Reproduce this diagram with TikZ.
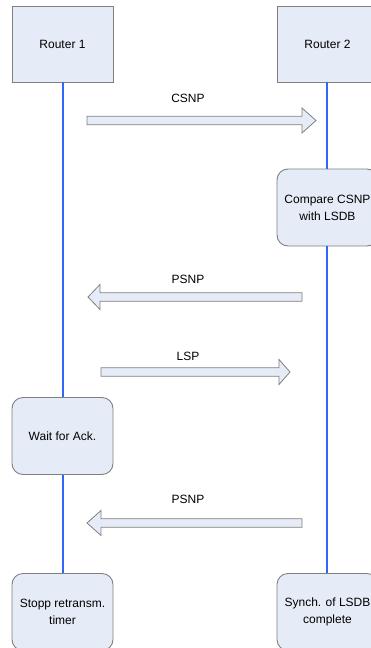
\documentclass[tikz,border=0pt]{standalone}
\usepackage{fontspec}
\setmainfont{Liberation Sans}
\definecolor{boxfill}{HTML}{E6ECF7}
\definecolor{boxline}{HTML}{7F7F7F}
\definecolor{lifeline}{HTML}{3366FF}
% block arrow: tail x, head base x, tip x, centre y (all in pt, y downwards)
\newcommand\pktarrow[4]{%
  \draw[pkt] (#1pt,-#4pt+4.2pt) -- (#2pt,-#4pt+4.2pt) -- (#2pt,-#4pt+12.5pt)
    -- (#3pt,-#4pt) -- (#2pt,-#4pt-12.5pt) -- (#2pt,-#4pt-4.2pt)
    -- (#1pt,-#4pt-4.2pt) -- cycle;}
\begin{document}
\begin{tikzpicture}[x=1pt,y=1pt,
  font=\fontsize{12}{17}\selectfont,
  router/.style={draw=boxline, fill=boxfill, line width=0.9pt,
    minimum width=101pt, minimum height=76pt, inner sep=0pt, align=center},
  proc/.style={router, rounded corners=11pt, minimum height=77pt},
  life/.style={draw=lifeline, line width=2.6pt},
  pkt/.style={draw=boxline, fill=boxfill, line width=0.8pt, line join=miter},
  lbl/.style={inner sep=0pt}]
\useasboundingbox (0,0) rectangle (370,-648);

% participants
\node[router] (r1) at (62.5,-44) {Router 1};
\node[router] (r2) at (327.5,-44) {Router 2};

% actions on the lifelines
\node[proc] (cmp) at (327.5,-207.5) {Compare CSNP\\with LSDB};
\node[proc] (wait) at (62.5,-436) {Wait for Ack.};
\node[proc] (stop) at (62.5,-612) {Stopp retransm.\\timer};
\node[proc] (sync) at (327.5,-612) {Synch. of LSDB\\complete};

% lifelines
\draw[life] (r1.south -| 63,0) -- (wait.north -| 63,0);
\draw[life] (wait.south -| 63,0) -- (stop.north -| 63,0);
\draw[life] (r2.south -| 327,0) -- (cmp.north -| 327,0);
\draw[life] (cmp.south -| 327,0) -- (sync.north -| 327,0);

% messages
\pktarrow{87}{302}{316}{120.5}
\node[lbl] (m1) at (188,-98) {CSNP};
\pktarrow{302}{100}{88}{297}
\node[lbl] (m2) at (188,-279) {PSNP};
\pktarrow{101}{279}{290}{372}
\node[lbl] (m3) at (188,-356) {LSP};
\pktarrow{302}{101}{87}{523}
\node[lbl] (m4) at (188,-499) {PSNP};
\end{tikzpicture}
\end{document}
